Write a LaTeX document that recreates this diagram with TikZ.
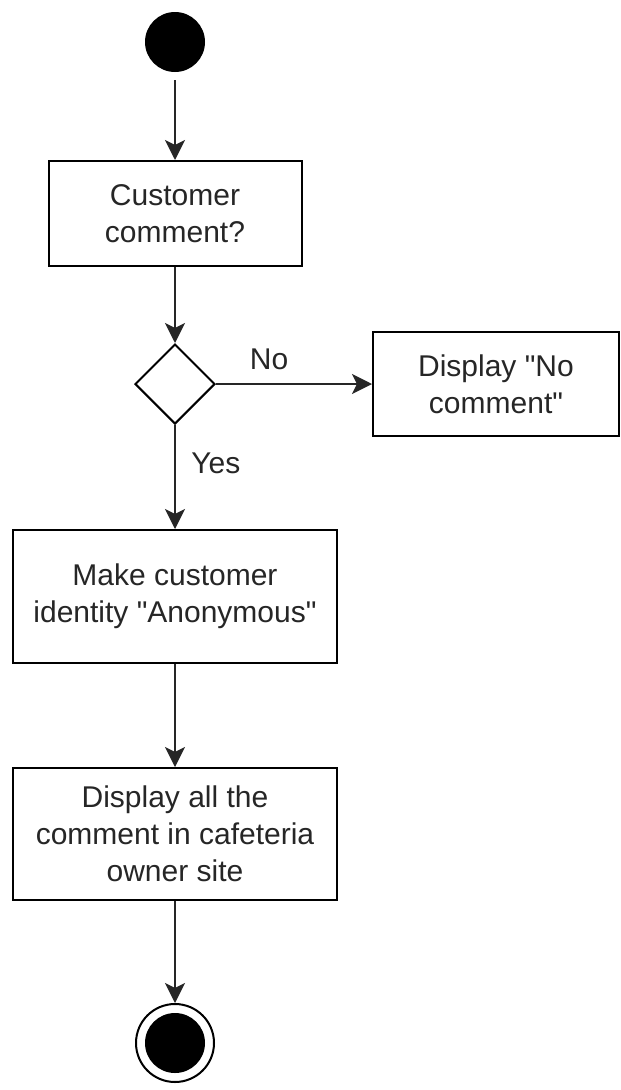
\documentclass[tikz,border=0pt]{standalone}
\usepackage{fontspec}
\defaultfontfeatures{Ligatures=TeXOff}
\setmainfont{Liberation Sans}[Ligatures=TeXOff]
\usetikzlibrary{shapes.geometric,arrows.meta}

\begin{document}
\begin{tikzpicture}[x=1pt,y=-1pt,
        font=\fontsize{30}{37}\selectfont,
        actbox/.style={draw, line width=2pt, rectangle, align=center, text=black!85, inner sep=0pt},
        flow/.style={draw=black!85, line width=2pt, -{Stealth[length=20pt,width=20pt,inset=5pt]}}]
        \useasboundingbox (0,0) rectangle (621,1090);
        % nodes
        \node [circle, fill=black, minimum size=60pt, inner sep=0pt] (start) at (175,42) {};
        \node [actbox, minimum width=253pt, minimum height=105pt] (cust) at (175,213.5) {Customer\\comment?};
        \node [draw, line width=2pt, diamond, aspect=1, minimum size=80pt, inner sep=0pt] (dec) at (175,384) {};
        \node [actbox, minimum width=246pt, minimum height=104pt] (nocom) at (496,384) {Display "No\\comment"};
        \node [actbox, minimum width=324pt, minimum height=133pt] (anon) at (175,596.5) {Make customer\\identity "Anonymous"};
        \node [actbox, minimum width=324pt, minimum height=132pt] (disp) at (175,834) {Display all the\\comment in cafeteria\\owner site};
        \node [circle, draw, line width=2pt, minimum size=78pt, inner sep=0pt] (end) at (175,1043) {};
        \node [circle, fill=black, minimum size=60pt, inner sep=0pt] (endin) at (end.center) {};
        % connectors
        \draw [flow, shorten <=8pt] (start) -- (cust);
        \draw [flow] (cust) -- (dec);
        \draw [flow] (dec.east) -- node[pos=0.34, above=10pt, text=black!85] {No} (nocom.west);
        \draw [flow] (dec.south) -- node[pos=0.37, right=12pt, text=black!85] {Yes} (anon.north);
        \draw [flow] (anon) -- (disp);
        \draw [flow] (disp) -- (end);
    \end{tikzpicture}
\end{document}
